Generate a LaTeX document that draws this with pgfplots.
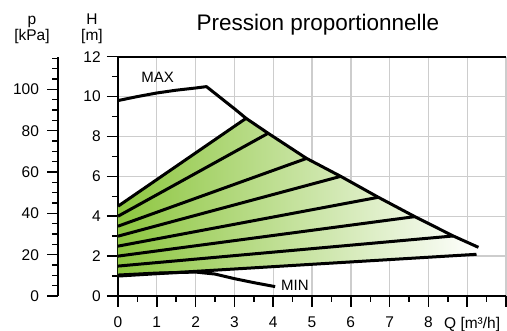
\documentclass[border=0pt]{standalone}
\usepackage{fontspec}
\setmainfont{Liberation Sans}
\usepackage{pgfplots}
\pgfplotsset{compat=1.18}
\definecolor{gfill}{RGB}{141,198,63}
\definecolor{gridc}{RGB}{205,205,205}
\begin{document}
\fontsize{15.5}{18}\selectfont
\begin{tikzpicture}[x=1pt,y=1pt]
\path[use as bounding box] (0,0) rectangle (507,331);
\begin{axis}[
 at={(118pt,35pt)}, anchor=south west, scale only axis,
 width=388pt, height=239.3pt,
 xmin=0,xmax=10,ymin=0,ymax=12,
 axis lines*=left, axis line style={-, line width=2pt},
 xtick={0,...,10}, xticklabels={0,1,2,3,4,5,6,7,8,{},{}},
 ytick={0,2,...,12},
 minor x tick num=1, minor y tick num=1,
 tick align=outside,
 major tick length=11pt, minor tick length=6pt,
 major tick style={black, line width=1.6pt},
 minor tick style={black, line width=1.4pt},
 grid=major, major grid style={gridc, line width=1.4pt},
 tick label style={font=\fontsize{15.5}{18}\selectfont},
 xticklabel style={yshift=-4pt},
 yticklabel style={xshift=-1pt},
 /pgf/number format/assume math mode=true,
 clip=false,
]
\addplot[draw=none, left color=gfill, right color=white] coordinates {(0,1.0)(0,4.5)(3.30,8.91)(3.87,8.16)(4.86,6.9)(5.74,6.0)(6.71,4.95)(7.65,3.98)(8.64,3.01)(9.29,2.44)(9.24,2.09)(0,1.0)};
\addplot[black, line width=3pt] coordinates {(0,4.5)(3.30,8.91)};
\addplot[black, line width=3pt] coordinates {(0,4.0)(3.87,8.16)};
\addplot[black, line width=3pt] coordinates {(0,3.5)(4.86,6.9)};
\addplot[black, line width=3pt] coordinates {(0,3.0)(5.74,6.0)};
\addplot[black, line width=3pt] coordinates {(0,2.5)(6.71,4.95)};
\addplot[black, line width=3pt] coordinates {(0,2.0)(7.65,3.98)};
\addplot[black, line width=3pt] coordinates {(0,1.5)(8.64,3.01)};
\addplot[black, line width=3pt] coordinates {(0,1.0)(9.24,2.09)};
\addplot[black, line width=3pt, line join=round] coordinates {(0,9.8)(0.5,10.0)(1.0,10.18)(1.5,10.32)(2.0,10.43)(2.28,10.5)(3.02,9.36)(3.30,8.91)(3.87,8.16)(4.86,6.9)(5.74,6.0)(6.71,4.95)(7.65,3.98)(8.64,3.01)(9.29,2.44)};
\addplot[black, line width=3pt, line join=round] coordinates {(0,1.05)(1,1.15)(2,1.2)(2.5,1.1)(3,0.87)(3.5,0.67)(4.05,0.47)};
\draw[line width=2pt] (axis cs:0,12) -- (axis cs:10,12);
\node[font=\fontsize{15}{18}\selectfont] at (axis cs:1.02,10.96) {MAX};
\node[font=\fontsize{15}{18}\selectfont] at (axis cs:4.56,0.55) {MIN};
\end{axis}
\begin{axis}[
 at={(58.3pt,35pt)}, anchor=south west, scale only axis,
 width=1pt, height=239.3pt,
 xmin=0,xmax=1,ymin=0,ymax=115.8,
 axis y line*=left, hide x axis, axis line style={-, line width=2pt},
 ytick={0,20,...,100}, minor ytick={5,10,...,115},
 tick align=outside,
 major tick length=11pt, minor tick length=6pt,
 major tick style={black, line width=1.6pt},
 minor tick style={black, line width=1.4pt},
 tick label style={font=\fontsize{15.5}{18}\selectfont},
 yticklabel style={xshift=-3pt},
 /pgf/number format/assume math mode=true,
]
\addplot[draw=none] coordinates {(0,0)};
\end{axis}
\node[anchor=base, font=\fontsize{22.5}{26}\selectfont] at (318,300.3) {Pression proportionnelle};
\node[anchor=base] at (92,306) {H};
\node[anchor=base] at (92,290) {[m]};
\node[anchor=base] at (32,306) {p};
\node[anchor=base] at (32,290) {[kPa]};
\node[anchor=base east] at (505.5,2.5) {Q [m³/h]};
\end{tikzpicture}
\end{document}
